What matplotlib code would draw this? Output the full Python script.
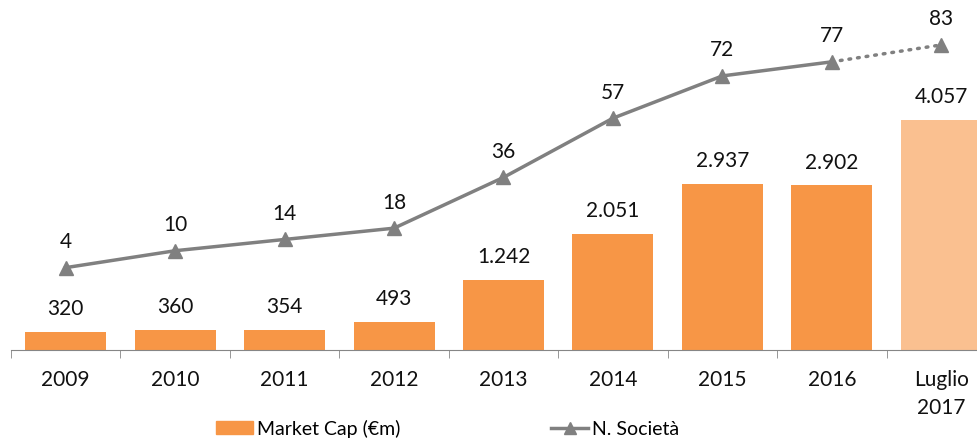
import matplotlib.pyplot as plt
from matplotlib.lines import Line2D
from matplotlib.patches import Patch

plt.rcParams['font.family'] = ['Lato', 'DejaVu Sans']

categories = ['2009', '2010', '2011', '2012', '2013', '2014', '2015', '2016', 'Luglio\n2017']
market_cap = [320, 360, 354, 493, 1242, 2051, 2937, 2902, 4057]
n_societa = [4, 10, 14, 18, 36, 57, 72, 77, 83]


def fmt(v):
    return f'{v:,}'.replace(',', '.')


def main():
    fig = plt.figure(figsize=(9.78, 4.39), dpi=100)
    # l'asse prosegue oltre il bordo destro, come nell'originale
    ax = fig.add_axes([0.0112, 0.2005, 985 / 978, 0.7765])
    x = list(range(len(categories)))

    colors = ['#F79646'] * (len(x) - 1) + ['#FAC090']
    bars = ax.bar(x, market_cap, width=0.74, color=colors, zorder=2)
    for b, v in zip(bars, market_cap):
        ax.annotate(fmt(v), (b.get_x() + b.get_width() / 2, v), xytext=(0, 10),
                    textcoords='offset points', ha='center', va='bottom',
                    fontsize=15, color='#111111')
    ax.set_ylim(0, 6014)
    ax.set_xlim(-0.5, len(x) - 0.5)
    ax.set_yticks([])
    for s in ['left', 'right', 'top']:
        ax.spines[s].set_visible(False)
    ax.spines['bottom'].set_color('#868686')
    ax.set_xticks(x)
    ax.set_xticklabels(categories, fontsize=15, color='#111111', linespacing=1.45)
    ax.tick_params(axis='x', which='major', length=0, pad=14)
    ax.set_xticks([i - 0.5 for i in range(len(x) + 1)], minor=True)
    ax.tick_params(axis='x', which='minor', length=6, color='#868686')

    ax2 = ax.twinx()
    ax2.set_ylim(-25.2, 95.7)
    ax2.axis('off')
    ax2.plot(x[:-1], n_societa[:-1], color='#808080', lw=2.5, marker='^',
             markersize=10, zorder=3)
    ax2.plot(x[-2:], n_societa[-2:], color='#808080', lw=2.5,
             linestyle=(0, (0.5, 2)), dash_capstyle='round', zorder=3)
    ax2.plot(x[-1], n_societa[-1], color='#808080', marker='^', markersize=10,
             linestyle='none', zorder=3)
    for xi, v in zip(x, n_societa):
        ax2.annotate(str(v), (xi, v), xytext=(0, 12), textcoords='offset points',
                     ha='center', va='bottom', fontsize=15, color='#111111')

    handles = [Patch(color='#F79646'),
               Line2D([], [], color='#808080', lw=2.5, marker='^', markersize=8)]
    fig.legend(handles, ['Market Cap (€m)', 'N. Società'], loc='center',
               bbox_to_anchor=(0.458, 0.022), ncol=2, frameon=False, fontsize=14,
               columnspacing=7.75, handlelength=1.9, handletextpad=0.2)

    fig.savefig('out.png', dpi=100)


if __name__ == "__main__":
    main()
